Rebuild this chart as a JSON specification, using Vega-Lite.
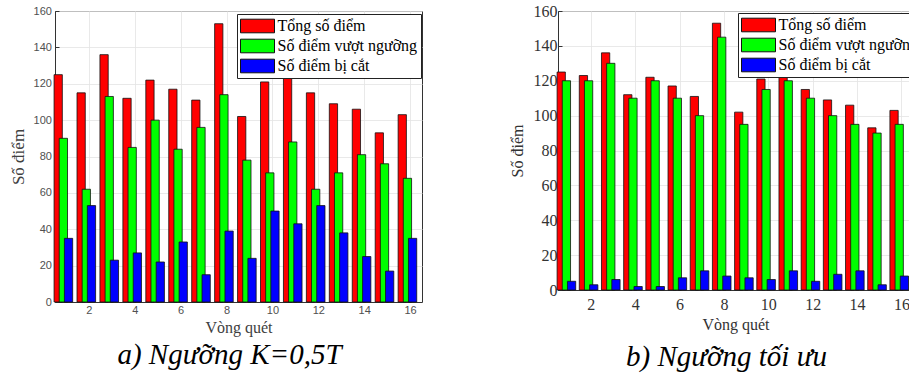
{
  "$schema": "https://vega.github.io/schema/vega-lite/v6.json",
  "padding": {"left": 8, "top": 2, "right": 0, "bottom": 0},
  "background": "white",
  "datasets": {
    "a": [
      {"vong": 1, "series": "Tổng số điểm", "value": 125}, {"vong": 1, "series": "Số điểm vượt ngưỡng", "value": 90}, {"vong": 1, "series": "Số điểm bị cắt", "value": 35},
      {"vong": 2, "series": "Tổng số điểm", "value": 115}, {"vong": 2, "series": "Số điểm vượt ngưỡng", "value": 62}, {"vong": 2, "series": "Số điểm bị cắt", "value": 53},
      {"vong": 3, "series": "Tổng số điểm", "value": 136}, {"vong": 3, "series": "Số điểm vượt ngưỡng", "value": 113}, {"vong": 3, "series": "Số điểm bị cắt", "value": 23},
      {"vong": 4, "series": "Tổng số điểm", "value": 112}, {"vong": 4, "series": "Số điểm vượt ngưỡng", "value": 85}, {"vong": 4, "series": "Số điểm bị cắt", "value": 27},
      {"vong": 5, "series": "Tổng số điểm", "value": 122}, {"vong": 5, "series": "Số điểm vượt ngưỡng", "value": 100}, {"vong": 5, "series": "Số điểm bị cắt", "value": 22},
      {"vong": 6, "series": "Tổng số điểm", "value": 117}, {"vong": 6, "series": "Số điểm vượt ngưỡng", "value": 84}, {"vong": 6, "series": "Số điểm bị cắt", "value": 33},
      {"vong": 7, "series": "Tổng số điểm", "value": 111}, {"vong": 7, "series": "Số điểm vượt ngưỡng", "value": 96}, {"vong": 7, "series": "Số điểm bị cắt", "value": 15},
      {"vong": 8, "series": "Tổng số điểm", "value": 153}, {"vong": 8, "series": "Số điểm vượt ngưỡng", "value": 114}, {"vong": 8, "series": "Số điểm bị cắt", "value": 39},
      {"vong": 9, "series": "Tổng số điểm", "value": 102}, {"vong": 9, "series": "Số điểm vượt ngưỡng", "value": 78}, {"vong": 9, "series": "Số điểm bị cắt", "value": 24},
      {"vong": 10, "series": "Tổng số điểm", "value": 121}, {"vong": 10, "series": "Số điểm vượt ngưỡng", "value": 71}, {"vong": 10, "series": "Số điểm bị cắt", "value": 50},
      {"vong": 11, "series": "Tổng số điểm", "value": 127}, {"vong": 11, "series": "Số điểm vượt ngưỡng", "value": 88}, {"vong": 11, "series": "Số điểm bị cắt", "value": 43},
      {"vong": 12, "series": "Tổng số điểm", "value": 115}, {"vong": 12, "series": "Số điểm vượt ngưỡng", "value": 62}, {"vong": 12, "series": "Số điểm bị cắt", "value": 53},
      {"vong": 13, "series": "Tổng số điểm", "value": 109}, {"vong": 13, "series": "Số điểm vượt ngưỡng", "value": 71}, {"vong": 13, "series": "Số điểm bị cắt", "value": 38},
      {"vong": 14, "series": "Tổng số điểm", "value": 106}, {"vong": 14, "series": "Số điểm vượt ngưỡng", "value": 81}, {"vong": 14, "series": "Số điểm bị cắt", "value": 25},
      {"vong": 15, "series": "Tổng số điểm", "value": 93}, {"vong": 15, "series": "Số điểm vượt ngưỡng", "value": 76}, {"vong": 15, "series": "Số điểm bị cắt", "value": 17},
      {"vong": 16, "series": "Tổng số điểm", "value": 103}, {"vong": 16, "series": "Số điểm vượt ngưỡng", "value": 68}, {"vong": 16, "series": "Số điểm bị cắt", "value": 35}
    ],
    "b": [
      {"vong": 1, "series": "Tổng số điểm", "value": 125}, {"vong": 1, "series": "Số điểm vượt ngưỡng", "value": 120}, {"vong": 1, "series": "Số điểm bị cắt", "value": 5},
      {"vong": 2, "series": "Tổng số điểm", "value": 123}, {"vong": 2, "series": "Số điểm vượt ngưỡng", "value": 120}, {"vong": 2, "series": "Số điểm bị cắt", "value": 3},
      {"vong": 3, "series": "Tổng số điểm", "value": 136}, {"vong": 3, "series": "Số điểm vượt ngưỡng", "value": 130}, {"vong": 3, "series": "Số điểm bị cắt", "value": 6},
      {"vong": 4, "series": "Tổng số điểm", "value": 112}, {"vong": 4, "series": "Số điểm vượt ngưỡng", "value": 110}, {"vong": 4, "series": "Số điểm bị cắt", "value": 2},
      {"vong": 5, "series": "Tổng số điểm", "value": 122}, {"vong": 5, "series": "Số điểm vượt ngưỡng", "value": 120}, {"vong": 5, "series": "Số điểm bị cắt", "value": 2},
      {"vong": 6, "series": "Tổng số điểm", "value": 117}, {"vong": 6, "series": "Số điểm vượt ngưỡng", "value": 110}, {"vong": 6, "series": "Số điểm bị cắt", "value": 7},
      {"vong": 7, "series": "Tổng số điểm", "value": 111}, {"vong": 7, "series": "Số điểm vượt ngưỡng", "value": 100}, {"vong": 7, "series": "Số điểm bị cắt", "value": 11},
      {"vong": 8, "series": "Tổng số điểm", "value": 153}, {"vong": 8, "series": "Số điểm vượt ngưỡng", "value": 145}, {"vong": 8, "series": "Số điểm bị cắt", "value": 8},
      {"vong": 9, "series": "Tổng số điểm", "value": 102}, {"vong": 9, "series": "Số điểm vượt ngưỡng", "value": 95}, {"vong": 9, "series": "Số điểm bị cắt", "value": 7},
      {"vong": 10, "series": "Tổng số điểm", "value": 121}, {"vong": 10, "series": "Số điểm vượt ngưỡng", "value": 115}, {"vong": 10, "series": "Số điểm bị cắt", "value": 6},
      {"vong": 11, "series": "Tổng số điểm", "value": 127}, {"vong": 11, "series": "Số điểm vượt ngưỡng", "value": 120}, {"vong": 11, "series": "Số điểm bị cắt", "value": 11},
      {"vong": 12, "series": "Tổng số điểm", "value": 115}, {"vong": 12, "series": "Số điểm vượt ngưỡng", "value": 110}, {"vong": 12, "series": "Số điểm bị cắt", "value": 5},
      {"vong": 13, "series": "Tổng số điểm", "value": 109}, {"vong": 13, "series": "Số điểm vượt ngưỡng", "value": 100}, {"vong": 13, "series": "Số điểm bị cắt", "value": 9},
      {"vong": 14, "series": "Tổng số điểm", "value": 106}, {"vong": 14, "series": "Số điểm vượt ngưỡng", "value": 95}, {"vong": 14, "series": "Số điểm bị cắt", "value": 11},
      {"vong": 15, "series": "Tổng số điểm", "value": 93}, {"vong": 15, "series": "Số điểm vượt ngưỡng", "value": 90}, {"vong": 15, "series": "Số điểm bị cắt", "value": 3},
      {"vong": 16, "series": "Tổng số điểm", "value": 103}, {"vong": 16, "series": "Số điểm vượt ngưỡng", "value": 95}, {"vong": 16, "series": "Số điểm bị cắt", "value": 8}
    ]
  },
  "spacing": 85,
  "resolve": {"scale": {"color": "independent", "x": "independent", "y": "independent"}, "legend": {"color": "independent"}},
  "hconcat": [
    {
      "width": 367,
      "height": 291,
      "data": {"name": "a"},
      "title": {"text": "a) Ngưỡng K=0,5T", "orient": "bottom", "font": "Times New Roman, Liberation Serif, DejaVu Serif, serif", "fontStyle": "italic", "fontWeight": "normal", "fontSize": 29, "color": "black", "offset": 6, "dx": -9, "anchor": "middle"},
      "mark": {"type": "bar", "width": {"band": 1.6}, "stroke": "#111", "strokeWidth": 0.8},
      "encoding": {
        "x": {"field": "vong", "type": "ordinal", "sort": null,
          "scale": {"paddingInner": 0.324, "paddingOuter": 0.162},
          "axis": {"title": "Vòng quét", "values": [2, 4, 6, 8, 10, 12, 14, 16], "bandPosition": 0.5, "labelAngle": 0,
            "grid": true, "gridColor": "#e3e3e3", "labelFont": "Liberation Sans", "labelFontSize": 11, "labelColor": "#505050",
            "titleFontSize": 16, "titleFontWeight": "normal", "titleColor": "#404040",
            "tickSize": -4, "tickColor": "#333", "domainColor": "#333", "labelPadding": 6, "titlePadding": 4}},
        "xOffset": {"field": "series", "sort": ["Tổng số điểm", "Số điểm vượt ngưỡng", "Số điểm bị cắt"], "scale": {"paddingInner": 0, "paddingOuter": 0}},
        "y": {"field": "value", "type": "quantitative",
          "scale": {"domain": [0, 160], "nice": false},
          "axis": {"title": "Số điểm", "values": [0, 20, 40, 60, 80, 100, 120, 140, 160], "grid": true, "gridColor": "#e3e3e3",
            "labelFont": "Liberation Sans", "labelFontSize": 11, "labelColor": "#505050",
            "titleFontSize": 17, "titleFontWeight": "normal", "titleColor": "#404040",
            "tickSize": -4, "tickColor": "#333", "domainColor": "#333", "labelPadding": 7.6, "titlePadding": 6}},
        "color": {"field": "series", "type": "nominal",
          "scale": {"domain": ["Tổng số điểm", "Số điểm vượt ngưỡng", "Số điểm bị cắt"], "range": ["#ff0000", "#00ff00", "#0000ff"]},
          "legend": {"title": null, "orient": "none", "legendX": 182, "legendY": 3}}
      }
    },
    {
      "width": 355,
      "height": 279,
      "data": {"name": "b"},
      "title": {"text": "b) Ngưỡng tối ưu", "orient": "bottom", "font": "Times New Roman, Liberation Serif, DejaVu Serif, serif", "fontStyle": "italic", "fontWeight": "normal", "fontSize": 29, "color": "black", "offset": 11, "dx": -9, "anchor": "middle"},
      "mark": {"type": "bar", "width": {"band": 1.6}, "stroke": "#111", "strokeWidth": 0.8},
      "encoding": {
        "x": {"field": "vong", "type": "ordinal", "sort": null,
          "scale": {"paddingInner": 0.324, "paddingOuter": 0.162},
          "axis": {"title": "Vòng quét", "values": [2, 4, 6, 8, 10, 12, 14, 16], "bandPosition": 0.5, "labelAngle": 0,
            "grid": true, "gridColor": "#e3e3e3", "labelFontSize": 16, "labelColor": "#333",
            "titleFontSize": 16, "titleFontWeight": "normal", "titleColor": "#333",
            "tickSize": -4, "tickColor": "#333", "domainColor": "#333", "labelPadding": 10, "titlePadding": 4}},
        "xOffset": {"field": "series", "sort": ["Tổng số điểm", "Số điểm vượt ngưỡng", "Số điểm bị cắt"], "scale": {"paddingInner": 0, "paddingOuter": 0}},
        "y": {"field": "value", "type": "quantitative",
          "scale": {"domain": [0, 160], "nice": false},
          "axis": {"title": "Số điểm", "values": [0, 20, 40, 60, 80, 100, 120, 140, 160], "grid": true, "gridColor": "#e3e3e3",
            "labelFontSize": 16, "labelColor": "#333",
            "titleFontSize": 16, "titleFontWeight": "normal", "titleColor": "#333",
            "tickSize": -4, "tickColor": "#333", "domainColor": "#333", "labelPadding": 5, "titlePadding": 8}},
        "color": {"field": "series", "type": "nominal",
          "scale": {"domain": ["Tổng số điểm", "Số điểm vượt ngưỡng", "Số điểm bị cắt"], "range": ["#ff0000", "#00ff00", "#0000ff"]},
          "legend": {"title": null, "orient": "none", "legendX": 180, "legendY": 2}}
      }
    }
  ],
  "config": {
    "font": "Times New Roman, Liberation Serif, DejaVu Serif, serif",
    "axis": {"domainWidth": 1, "gridWidth": 0.8, "labelFont": "Times New Roman, Liberation Serif, DejaVu Serif, serif", "titleFont": "Times New Roman, Liberation Serif, DejaVu Serif, serif"},
    "view": {"stroke": "#333", "strokeWidth": 1},
    "legend": {"fillColor": "white", "strokeColor": "#222", "padding": 3,
      "labelFont": "Times New Roman, Liberation Serif, DejaVu Serif, serif", "labelFontSize": 16, "labelColor": "black", "labelOffset": 11,
      "symbolType": "M-2,-0.8H2V0.8H-2Z", "symbolSize": 289, "symbolOffset": 8.5,
      "symbolStrokeColor": "#111", "symbolStrokeWidth": 1, "symbolOpacity": 1,
      "rowPadding": 2, "zindex": 1}
  }
}
